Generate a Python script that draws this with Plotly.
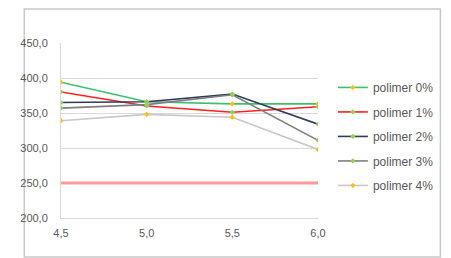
import plotly.graph_objects as go

x_vals = [4.5, 5.0, 5.5, 6.0]
x_labels = ["4,5", "5,0", "5,5", "6,0"]
series_names = ["polimer 0%", "polimer 1%", "polimer 2%", "polimer 3%", "polimer 4%"]
p0 = [394, 366, 363, 363]
p1 = [380, 360, 351, 359]
p2 = [365, 366, 377, 334]
p3 = [357, 362, 376, 311]
p4 = [339, 348, 344, 298]
limit_value = [250, 250, 250, 250]

line_colors = ["#3CC070", "#FF2020", "#2F3D5A", "#7F7F7F", "#C8C8C8"]
marker_colors = ["#FFC000", "#92D050", "#92D050", "#92D050", "#FFC000"]
series_values = [p0, p1, p2, p3, p4]

fig = go.Figure()
fig.add_trace(go.Scatter(x=x_vals, y=limit_value, mode="lines",
                         line=dict(color="#FF9A9A", width=3), showlegend=False,
                         hoverinfo="skip"))
for name, vals, lc, mc in zip(series_names, series_values, line_colors, marker_colors):
    fig.add_trace(go.Scatter(x=x_vals, y=vals, name=name, mode="lines+markers",
                             line=dict(color=lc, width=1.6),
                             marker=dict(color=mc, size=4, symbol="diamond"),
                             legendgroup=name))

grey = "#595959"
fig.update_layout(
    width=443, height=250,
    margin=dict(l=39, r=131, t=35, b=40),
    paper_bgcolor="white", plot_bgcolor="white",
    separators=",.",
    font=dict(family="Liberation Sans, Arial, sans-serif", size=11, color=grey),
    xaxis=dict(range=[4.5, 6.0], tickvals=x_vals, ticktext=x_labels,
               showgrid=False, zeroline=False, showline=True, linecolor="#D9D9D9",
               linewidth=1, ticks="", ticklabelstandoff=5,
               tickfont=dict(size=11, color=grey)),
    yaxis=dict(range=[200, 450], dtick=50, tickformat=".1f",
               showgrid=True, gridcolor="#D9D9D9", gridwidth=1,
               zeroline=False, showline=True, linecolor="#D9D9D9", ticks="",
               ticklabelstandoff=10, tickfont=dict(size=11, color=grey)),
    legend=dict(x=1.058, y=0.829, xanchor="left", yanchor="top",
                font=dict(size=12, color=grey), itemwidth=30,
                tracegroupgap=5.5, bgcolor="rgba(0,0,0,0)"),
    shapes=[dict(type="rect", xref="paper", yref="paper",
                 x0=-39 / 273, x1=(442 - 39) / 273, y0=-39 / 175, y1=1 + 34 / 175,
                 line=dict(color="#C8C8C8", width=1.5), layer="below")],
)

fig.write_html("out.html")
